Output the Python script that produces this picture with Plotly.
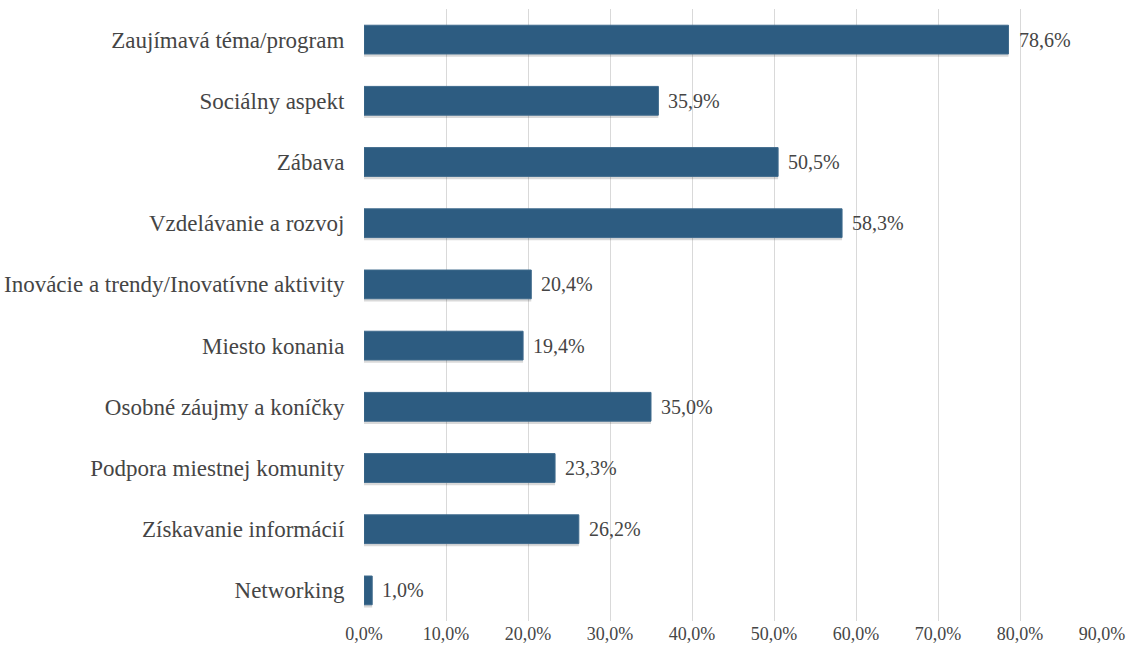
import plotly.graph_objects as go

# Motivations for attending events (share of respondents, %)
categories = [
    "Zaujímavá téma/program",
    "Sociálny aspekt",
    "Zábava",
    "Vzdelávanie a rozvoj",
    "Inovácie a trendy/Inovatívne aktivity",
    "Miesto konania",
    "Osobné záujmy a koníčky",
    "Podpora miestnej komunity",
    "Získavanie informácií",
    "Networking",
]
values = [78.6, 35.9, 50.5, 58.3, 20.4, 19.4, 35.0, 23.3, 26.2, 1.0]
tick_values = [0, 10, 20, 30, 40, 50, 60, 70, 80, 90]
tick_labels = [f"{v:.1f}%".replace(".", ",") for v in tick_values]
value_labels = [f"{v:.1f}%".replace(".", ",") for v in values]

FONT = "Liberation Serif, Times New Roman, serif"
TEXT = "#454545"

fig = go.Figure()

# soft drop shadow beneath each bar
fig.add_trace(go.Bar(
    y=categories, x=values, orientation="h",
    marker=dict(color="rgba(0,0,0,0.15)", line=dict(width=0)),
    width=0.5, offset=-0.28, hoverinfo="skip", showlegend=False,
))

# main bars
fig.add_trace(go.Bar(
    y=categories, x=values, orientation="h",
    marker=dict(color="#2d5c81", line=dict(color="#3f6a8c", width=1)),
    width=0.47, offset=-0.235, hoverinfo="x+y", showlegend=False,
))

# value labels to the right of each bar
for cat, val, lab in zip(categories, values, value_labels):
    fig.add_annotation(
        x=val, y=cat, text=lab, showarrow=False,
        xanchor="left", yanchor="middle", xshift=8,
        font=dict(family=FONT, size=20, color=TEXT),
    )

fig.update_layout(
    width=1129, height=652,
    margin=dict(l=364, r=27, t=9, b=31),
    paper_bgcolor="white", plot_bgcolor="white",
    barmode="overlay",
    font=dict(family=FONT, color=TEXT),
    xaxis=dict(
        range=[0, 90], tickvals=tick_values, ticktext=tick_labels,
        showgrid=True, gridcolor="#d9d9d9", gridwidth=1,
        zeroline=False, showline=False,
        tickfont=dict(family=FONT, size=18, color=TEXT),
        ticks="", automargin=False, fixedrange=True,
    ),
    yaxis=dict(
        categoryorder="array", categoryarray=categories[::-1],
        autorange=True,
        tickfont=dict(family=FONT, size=23, color=TEXT),
        ticks="outside", ticklen=14, tickcolor="rgba(0,0,0,0)",
        showgrid=False, zeroline=False, showline=False,
        automargin=False,
    ),
)

fig.write_html("out.html")
